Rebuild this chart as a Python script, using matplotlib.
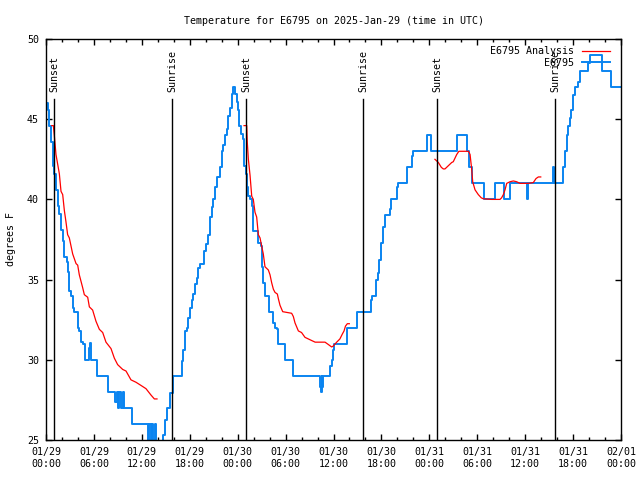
import matplotlib
matplotlib.use("Agg")
import matplotlib.pyplot as plt
import numpy as np
from matplotlib.ticker import MultipleLocator
from matplotlib.transforms import blended_transform_factory

plt.rcParams['font.family'] = ['DejaVu Sans Mono']

# ---- data (hours since 01/29 00:00 UTC) ----
obs_hours = [0.0, 0.21, 0.42, 0.63, 0.83, 1.04, 1.25, 1.46, 1.6, 1.88, 2.09, 2.3, 2.59, 2.71, 2.92,
             3.13, 3.34, 3.55, 3.97, 4.17, 4.38, 4.59, 4.93, 5.34, 5.55, 5.63, 6.34, 7.72, 8.68, 8.85,
             8.97, 9.18, 9.39, 9.6, 9.73, 10.73, 12.73, 12.94, 13.1, 13.27, 13.4, 13.69, 13.8, 14.69,
             14.9, 15.1, 15.5, 15.94, 16.99, 17.2, 17.4, 17.6, 17.8, 18.0, 18.25, 18.45, 18.66, 18.87,
             19.07, 19.28, 19.78, 20.0, 20.3, 20.5, 20.75, 20.95, 21.16, 21.37, 21.79, 22.0, 22.2,
             22.4, 22.63, 22.83, 23.04, 23.25, 23.45, 23.67, 23.88, 24.08, 24.2, 24.42, 24.63, 24.83,
             25.04, 25.13, 25.34, 25.55, 25.76, 25.88, 25.96, 26.59, 26.88, 27.0, 27.2, 27.42, 27.96,
             28.47, 28.68, 28.9, 29.1, 29.93, 30.97, 34.31, 34.44, 34.52, 34.6, 34.73, 35.56, 35.75,
             35.9, 36.07, 37.65, 38.9, 40.66, 40.79, 41.32, 41.61, 41.74, 41.9, 42.16, 42.45, 43.08,
             43.2, 43.9, 44.1, 45.17, 45.8, 46.0, 47.67, 48.17, 51.47, 52.7, 53.0, 53.4, 54.9, 56.2,
             57.35, 58.1, 60.2, 60.4, 63.44, 63.6, 64.78, 64.99, 65.2, 65.4, 65.6, 65.8, 66.0, 66.24,
             66.66, 66.87, 67.9, 68.1, 69.58, 70.75, 72.0]
obs_temps = [46.0, 45.6, 44.6, 43.6, 42.1, 41.6, 40.6, 39.6, 39.1, 38.1, 37.4, 36.4, 36.1, 35.5, 34.3,
             34.0, 33.2, 33.0, 32.0, 31.8, 31.1, 31.0, 30.0, 30.75, 31.06, 30.0, 29.0, 28.0, 27.4, 28.0,
             27.0, 28.0, 27.0, 28.0, 27.0, 26.0, 24.5, 26.0, 24.5, 26.0, 24.5, 26.0, 24.5, 25.3,
             26.25, 27.0, 27.9, 29.0, 29.9, 30.6, 31.8, 32.0, 32.6, 33.2, 33.75, 34.1, 34.7, 35.1,
             35.7, 36.0, 36.8, 37.2, 37.8, 38.9, 39.5, 40.0, 40.75, 41.4, 42.0, 43.0, 43.4,
             44.0, 44.4, 45.2, 45.7, 46.6, 47.0, 46.6, 46.1, 45.6, 44.6, 44.1, 43.75, 42.1,
             41.6, 40.75, 40.2, 40.0, 39.6, 38.96, 38.0, 37.3, 37.1, 35.8, 34.8, 34.0, 33.0,
             32.3, 32.0, 31.9, 31.0, 30.0, 29.0, 28.33, 28.0, 29.0, 28.3, 29.0, 29.6, 30.0,
             30.6, 31.0, 32.0, 33.0, 33.75, 34.0, 35.0, 35.4, 36.25, 37.3, 38.3, 39.0, 39.4,
             40.0, 40.8, 41.0, 42.0, 42.7, 43.0, 44.0, 43.0, 44.0, 43.0, 42.0, 41.0, 40.0, 41.0,
             40.0, 41.0, 40.0, 41.0, 42.0, 41.0, 42.0, 43.0, 44.0, 44.6, 45.1, 45.6, 46.5, 47.0,
             47.3, 48.0, 48.5, 49.0, 48.0, 47.0, 47.0]

ana1_hours = [0.72, 0.92, 1.04, 1.25, 1.46, 1.67, 1.88, 2.09, 2.3, 2.5, 2.71, 2.92, 3.13, 3.34, 3.76,
              3.97, 4.17, 4.59, 4.8, 5.22, 5.43, 5.84, 6.26, 6.68, 7.1, 7.51, 8.14, 8.56, 8.97, 9.6,
              10.02, 10.64, 11.27, 11.9, 12.52, 13.15, 13.57, 13.9]
ana1_temps = [44.6, 44.6, 44.0, 42.8, 42.2, 41.6, 40.5, 40.3, 39.3, 38.6, 37.8, 37.6, 37.1, 36.6, 36.0,
              35.9, 35.3, 34.5, 34.06, 33.9, 33.3, 33.1, 32.4, 31.9, 31.7, 31.1, 30.7, 30.1, 29.7, 29.4,
              29.3, 28.75, 28.6, 28.4, 28.2, 27.8, 27.56, 27.56]
ana2_hours = [24.8, 25.13, 25.2, 25.34, 25.55, 25.76, 25.96, 26.17, 26.38, 26.59, 26.8, 27.0, 27.21,
              27.42, 27.63, 27.84, 28.05, 28.26, 28.47, 28.68, 28.97, 29.1, 29.3, 29.64, 30.2, 30.76,
              30.97, 31.18, 31.6, 32.0, 32.43, 32.85, 33.27, 33.7, 34.94, 35.36, 35.77, 35.95, 36.4,
              36.6, 36.8, 37.1, 37.32, 37.5, 37.73, 37.98]
ana2_temps = [44.6, 44.6, 43.6, 42.5, 41.5, 40.2, 40.0, 39.2, 38.9, 37.8, 37.6, 37.1, 36.6,
              35.8, 35.7, 35.6, 35.3, 34.8, 34.4, 34.2, 34.1, 33.8, 33.4, 33.0, 32.95, 32.9,
              32.7, 32.3, 31.8, 31.7, 31.4, 31.3, 31.2, 31.1, 31.1, 30.95, 30.8, 30.85, 31.1,
              31.2, 31.3, 31.6, 31.8, 32.1, 32.25, 32.25]
ana3_hours = [48.7, 49.13, 49.5, 49.75, 49.96, 50.38, 50.8, 51.0, 51.43, 51.7, 52.9, 53.1, 53.3, 53.43,
              53.72, 54.13, 54.5, 54.76, 55.8, 56.85, 57.05, 57.27, 57.48, 57.69, 58.1, 58.52, 58.94,
              59.35, 60.4, 61.02, 61.36, 61.65, 61.95]
ana3_temps = [42.5, 42.3, 42.0, 41.9, 41.9, 42.1, 42.3, 42.35, 42.8, 43.0, 43.0, 42.8, 41.9, 41.1,
              40.6, 40.3, 40.1, 40.04, 40.0, 40.0, 40.1, 40.3, 40.6, 41.0, 41.1, 41.15, 41.1,
              41.0, 41.0, 41.05, 41.3, 41.4, 41.4]

sun_hours = [1.04, 15.8, 25.08, 39.74, 49.0, 63.76]
sun_labels = ["Sunset", "Sunrise", "Sunset", "Sunrise", "Sunset", "Sunrise"]

xtick_hours = [0, 6, 12, 18, 24, 30, 36, 42, 48, 54, 60, 66, 72]
xtick_labels = ["01/29\n00:00", "01/29\n06:00", "01/29\n12:00", "01/29\n18:00",
                "01/30\n00:00", "01/30\n06:00", "01/30\n12:00", "01/30\n18:00",
                "01/31\n00:00", "01/31\n06:00", "01/31\n12:00", "01/31\n18:00",
                "02/01\n00:00"]
ytick_vals = [25, 30, 35, 40, 45, 50]

# ---- figure ----
fs = 7.2
fig = plt.figure(figsize=(6.4, 4.8), dpi=100)
ax = fig.add_axes([46/640, 1 - 440/480, 575/640, 401/480])

blue = '#0a84f0'
red = '#ff0000'

ax.plot(ana1_hours, ana1_temps, color=red, lw=0.9, label='E6795 Analysis', zorder=3)
ax.plot(ana2_hours, ana2_temps, color=red, lw=0.9, zorder=3)
ax.plot(ana3_hours, ana3_temps, color=red, lw=0.9, zorder=3)
ax.plot(obs_hours, obs_temps, color=blue, lw=1.4, drawstyle='steps-post',
        label='         E6795', zorder=2)

trans = blended_transform_factory(ax.transData, ax.transAxes)
for h, lab in zip(sun_hours, sun_labels):
    ax.axvline(h, ymin=0, ymax=0.85, color='black', lw=1.0, zorder=4)
    ax.text(h, 0.868, lab, rotation=90, ha='center', va='bottom', transform=trans,
            fontsize=fs)

ax.set_xlim(0, 72)
ax.set_ylim(25, 50)
ax.set_xticks(xtick_hours)
ax.set_xticklabels(xtick_labels, fontsize=fs, linespacing=1.25)
ax.xaxis.set_minor_locator(MultipleLocator(2))
ax.set_yticks(ytick_vals)
ax.set_yticklabels([str(v) for v in ytick_vals], fontsize=fs)
ax.tick_params(which='major', direction='in', length=4, width=1, top=True, right=True, pad=5)
ax.tick_params(which='minor', direction='in', length=2.5, width=1, top=True, right=True)
ax.tick_params(axis='y', pad=5)
for s in ax.spines.values():
    s.set_linewidth(1.0)

ax.set_ylabel('degrees F', fontsize=fs)
ax.yaxis.set_label_coords(-0.053, 0.5)
ax.set_title('Temperature for E6795 on 2025-Jan-29 (time in UTC)', fontsize=fs, pad=11)

leg = ax.legend(loc='upper right', bbox_to_anchor=(0.981, 0.982), frameon=False,
                markerfirst=False, fontsize=fs, handlelength=2.8, handletextpad=0.8,
                labelspacing=0.15, borderaxespad=0, borderpad=0)

fig.savefig('out.png', dpi=100)
